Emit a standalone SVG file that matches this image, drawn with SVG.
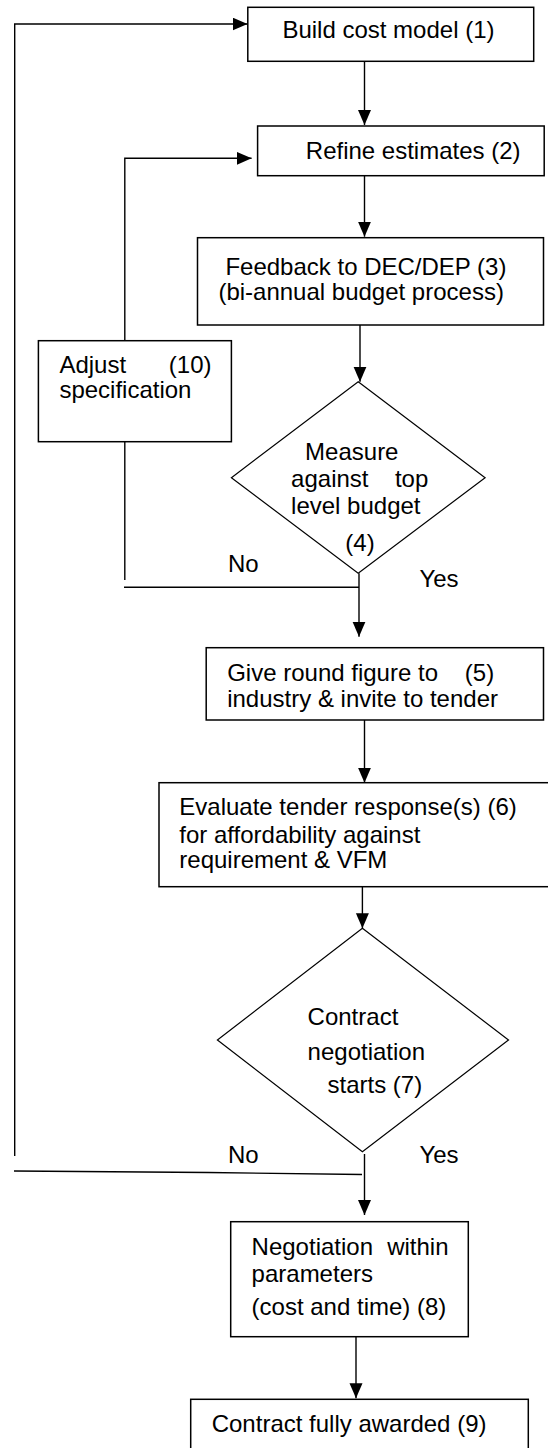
<svg xmlns="http://www.w3.org/2000/svg" width="548" height="1448" viewBox="0 0 548 1448">
<style>
.box{fill:#fff;stroke:#000;stroke-width:1.5}
.dia{fill:#fff;stroke:#000;stroke-width:1.2}
.ln{fill:none;stroke:#000;stroke-width:1.4}
.t{font-family:"Liberation Sans",Arial,sans-serif;font-size:24px;fill:#000}
</style>
<defs>
<marker id="ah" markerUnits="userSpaceOnUse" markerWidth="16" markerHeight="14" refX="15" refY="6.5" orient="auto">
<path d="M0,0 L15,6.5 L0,13 z" fill="#000"/>
</marker>
</defs>
<rect width="548" height="1448" fill="#fff"/>
<g id="connectors">
<polyline class="ln" points="14.7,1156 14.7,24 247.5,24" marker-end="url(#ah)"/>
<polyline class="ln" points="14,1171 208,1172.5 362,1174.5"/>
<polyline class="ln" points="124.8,340.7 124.8,158.3 251.6,158.3" marker-end="url(#ah)"/>
<line class="ln" x1="124.8" y1="441.7" x2="124.8" y2="580"/>
<line class="ln" x1="124" y1="587.3" x2="359" y2="587.3"/>
<line class="ln" x1="359" y1="573.3" x2="359" y2="636.7" marker-end="url(#ah)"/>
<line class="ln" x1="364.5" y1="61.3" x2="364.5" y2="125" marker-end="url(#ah)"/>
<line class="ln" x1="364.5" y1="175.7" x2="364.5" y2="236.7" marker-end="url(#ah)"/>
<line class="ln" x1="360" y1="325" x2="360" y2="381.7" marker-end="url(#ah)"/>
<line class="ln" x1="364.5" y1="720" x2="364.5" y2="782.7" marker-end="url(#ah)"/>
<line class="ln" x1="362.4" y1="886.7" x2="362.4" y2="928.3" marker-end="url(#ah)"/>
<line class="ln" x1="364.5" y1="1154" x2="364.5" y2="1215" marker-end="url(#ah)"/>
<line class="ln" x1="356" y1="1336.7" x2="356" y2="1398.3" marker-end="url(#ah)"/>
<text class="t" x="227.9" y="571.7">No</text>
<text class="t" x="419.4" y="586.7">Yes</text>
<text class="t" x="227.9" y="1163.3">No</text>
<text class="t" x="419.4" y="1163.3">Yes</text>
</g>
<g id="n1">
<rect class="box" x="247.8" y="7.3" width="285.9" height="54"/>
<text class="t" x="282.4" y="37.7">Build cost model (1)</text>
</g>
<g id="n2">
<rect class="box" x="257.6" y="126" width="286.6" height="49.7"/>
<text class="t" x="305.8" y="159.3">Refine estimates (2)</text>
</g>
<g id="n3">
<rect class="box" x="197.5" y="237.7" width="346" height="87.3"/>
<text class="t" x="225.4" y="275">Feedback to DEC/DEP (3)</text>
<text class="t" x="218.4" y="299.5">(bi-annual budget process)</text>
</g>
<g id="n10">
<rect class="box" x="38.4" y="340.7" width="193" height="101"/>
<text class="t" x="59.4" y="373.3">Adjust</text>
<text class="t" x="168.8" y="373.3">(10)</text>
<text class="t" x="59.4" y="398.3">specification</text>
</g>
<g id="n4">
<polygon class="dia" points="358.2,381.7 485.1,477.7 358.2,573.3 231.4,477.7"/>
<text class="t" x="305.1" y="460">Measure</text>
<text class="t" x="291.1" y="486.7">against</text>
<text class="t" x="394.9" y="486.7">top</text>
<text class="t" x="291.1" y="514.3">level budget</text>
<text class="t" x="345.3" y="550.7">(4)</text>
</g>
<g id="n5">
<rect class="box" x="206.2" y="647.7" width="337.3" height="72.3"/>
<text class="t" x="227.2" y="681">Give round figure to</text>
<text class="t" x="464.8" y="681">(5)</text>
<text class="t" x="227.2" y="706.7">industry &amp; invite to tender</text>
</g>
<g id="n6">
<rect class="box" x="159" y="782.7" width="400" height="104"/>
<text class="t" x="179.3" y="815">Evaluate tender response(s) (6)</text>
<text class="t" x="179.3" y="842.7">for affordability against</text>
<text class="t" x="179.3" y="868.3">requirement &amp; VFM</text>
</g>
<g id="n7">
<polygon class="dia" points="362.4,928.3 508.5,1040 362.4,1151.7 217.4,1040"/>
<text class="t" x="307.6" y="1025">Contract</text>
<text class="t" x="307.6" y="1060">negotiation</text>
<text class="t" x="327.5" y="1093.3">starts (7)</text>
</g>
<g id="n8">
<rect class="box" x="230.7" y="1221.7" width="237.6" height="115"/>
<text class="t" x="251.6" y="1255">Negotiation</text>
<text class="t" x="387.2" y="1255">within</text>
<text class="t" x="251.6" y="1281.7">parameters</text>
<text class="t" x="251.6" y="1315">(cost and time) (8)</text>
</g>
<g id="n9">
<rect class="box" x="190.7" y="1399.3" width="337.6" height="70"/>
<text class="t" x="211.7" y="1431.7">Contract fully awarded (9)</text>
</g>
</svg>
